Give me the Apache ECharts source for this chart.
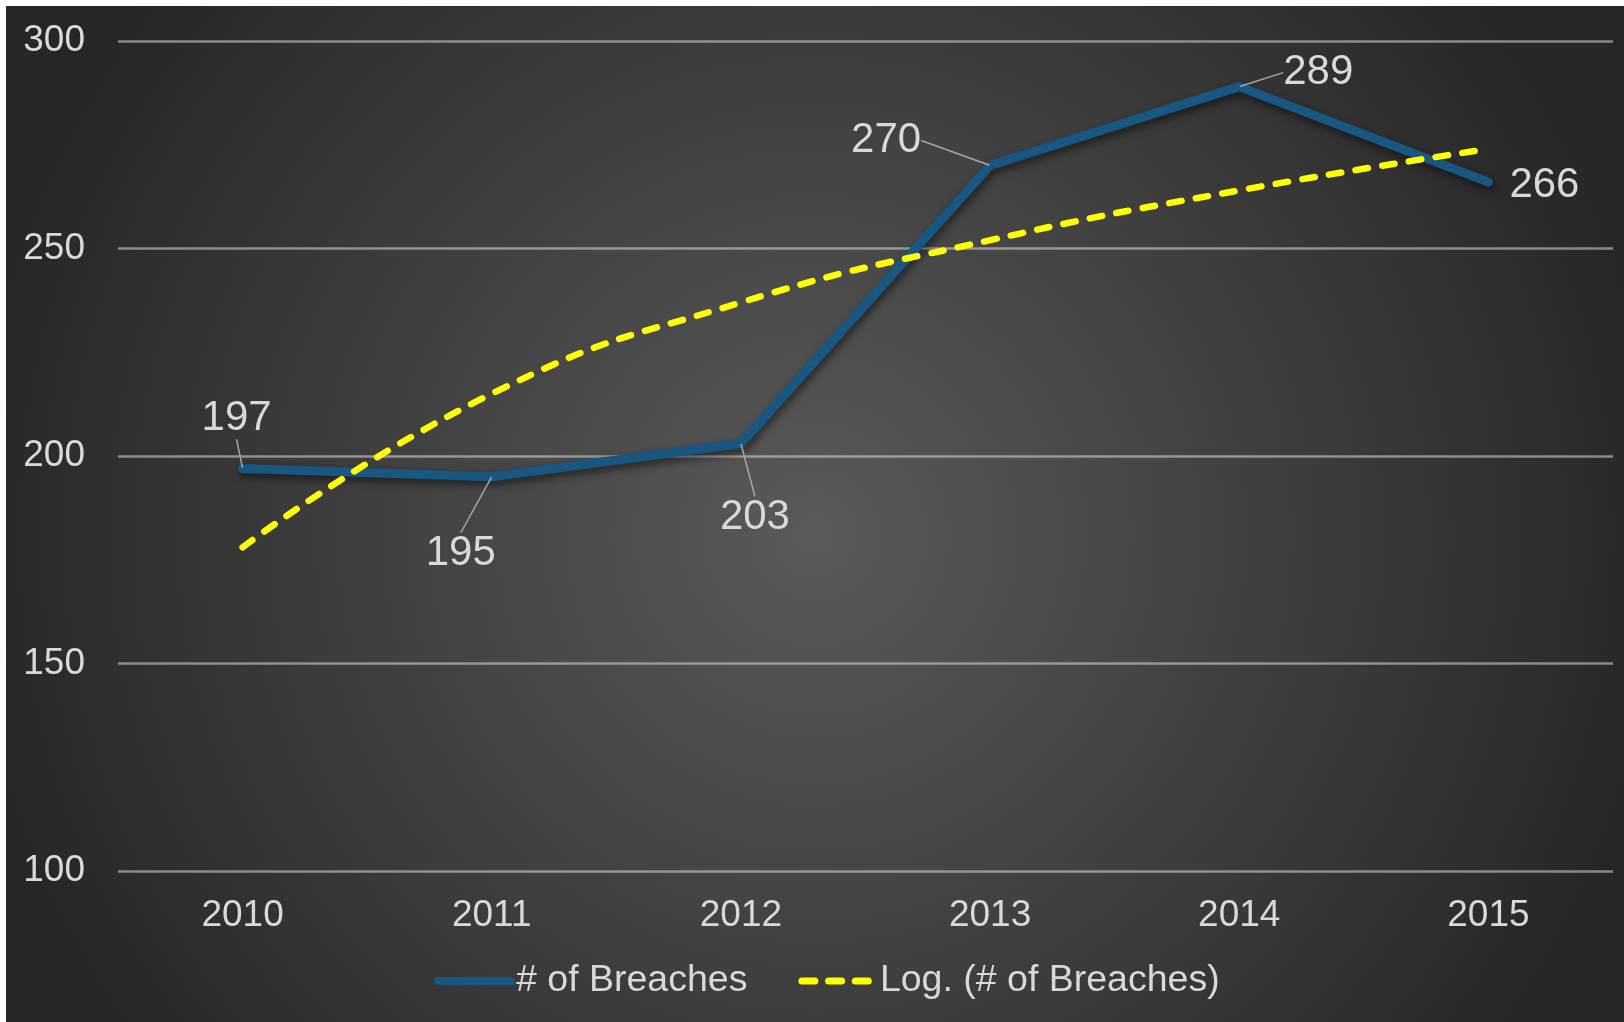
<!DOCTYPE html>
<html>
<head>
<meta charset="utf-8">
<script src="https://cdn.jsdelivr.net/npm/echarts@6/dist/echarts.min.js"></script>
<style>
  html, body { margin: 0; padding: 0; background: #ffffff; }
  #chart { position: absolute; left: 6px; top: 6px; width: 1618px; height: 1016px; }
</style>
</head>
<body>
<div id="chart"></div>
<script>
// Yearly breach counts and the logarithmic trend read along the same years
const years = ['2010', '2011', '2012', '2013', '2014', '2015'];
const breaches = [197, 195, 203, 270, 289, 266];
const logTrend = [178, 215, 237, 252, 264, 274];
const yTicks = [100, 150, 200, 250, 300];

// Where each value label sits relative to its point (pixels)
const labelOffsets = [[-6, -50], [-31, 77], [14, 74], [-104, -25], [79, -14], [56, 3]];

const textColor = '#d9d9d9';
const fontFamily = '"Liberation Sans", Arial, sans-serif';
const breachBlue = '#175781';
const trendYellow = '#ffff00';

const chart = echarts.init(document.getElementById('chart'));

chart.setOption({
  animation: false,
  backgroundColor: {
    type: 'radial', x: 0.5, y: 0.52, r: 0.85,
    colorStops: [
      { offset: 0, color: '#5a5a5a' },
      { offset: 1, color: '#262626' }
    ]
  },
  textStyle: { fontFamily: fontFamily },
  grid: { left: 112, right: 11, top: 35, bottom: 151, containLabel: false },
  legend: {
    left: 423, bottom: 17,
    itemWidth: 73, itemHeight: 10, itemGap: 51,
    itemStyle: { opacity: 0 },
    textStyle: { color: textColor, fontSize: 37.5, fontFamily: fontFamily },
    data: [
      { name: '# of Breaches', lineStyle: { color: breachBlue, width: 8, cap: 'round', type: 'solid' } },
      { name: 'Log. (# of Breaches)', lineStyle: { color: trendYellow, width: 7, cap: 'round', type: [13, 13.7] } }
    ]
  },
  xAxis: {
    type: 'category',
    data: years,
    boundaryGap: true,
    axisLine: { show: false },
    axisTick: { show: false },
    axisLabel: { color: textColor, fontSize: 37, margin: 26 }
  },
  yAxis: {
    type: 'value',
    min: yTicks[0], max: yTicks[yTicks.length - 1], interval: 50,
    axisLine: { show: false },
    axisTick: { show: false },
    axisLabel: { color: textColor, fontSize: 37, margin: 33 },
    splitLine: { lineStyle: { color: 'rgba(217,217,217,0.55)', width: 2.5 } }
  },
  series: [
    {
      name: '# of Breaches',
      type: 'line',
      data: breaches.map(function (v, i) {
        return i === breaches.length - 1 ? { value: v, labelLine: { show: false } } : v;
      }),
      symbol: 'circle',
      symbolSize: 1,
      itemStyle: { color: breachBlue },
      lineStyle: {
        color: breachBlue, width: 9, cap: 'round', join: 'round',
        shadowColor: 'rgba(0,0,0,0.55)', shadowBlur: 8, shadowOffsetX: 2, shadowOffsetY: 4
      },
      label: {
        show: true,
        position: 'inside',
        color: textColor,
        fontSize: 42,
        fontFamily: fontFamily
      },
      labelLine: {
        show: true,
        lineStyle: { color: '#a6a6a6', width: 1.5 }
      },
      labelLayout: function (params) {
        const o = labelOffsets[params.dataIndex];
        return { dx: o[0], dy: o[1] };
      },
      z: 3
    },
    {
      name: 'Log. (# of Breaches)',
      type: 'line',
      data: logTrend,
      smooth: 0.5,
      symbol: 'none',
      itemStyle: { color: trendYellow },
      lineStyle: { color: trendYellow, width: 6.5, type: [12.5, 14.5], cap: 'round' },
      z: 4
    }
  ]
});
</script>
</body>
</html>
